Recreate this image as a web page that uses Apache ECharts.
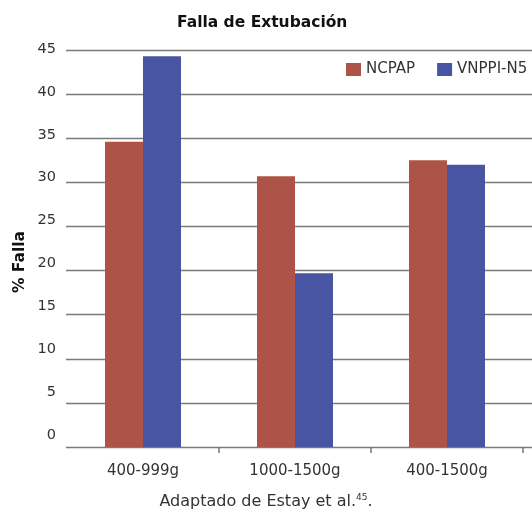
<!DOCTYPE html>
<html>
<head>
<meta charset="utf-8">
<script src="https://cdn.jsdelivr.net/npm/echarts@6/dist/echarts.min.js"></script>
<style>html,body{margin:0;padding:0;background:#fff}#c{width:532px;height:509px}</style>
</head>
<body>
<div id="c"></div>
<script>
const categories = ['400-999g', '1000-1500g', '400-1500g'];
const ncpap = [34.6, 30.7, 32.5];
const vnppi = [44.3, 19.7, 32.0];
const seriesNames = ['NCPAP', 'VNPPI-N5'];
const yMin = 0, yMax = 45, yStep = 5;

const FONT = 'DejaVu Sans';
const chart = echarts.init(document.getElementById('c'), null, {renderer: 'canvas'});
chart.setOption({
  animation: false,
  textStyle: {fontFamily: FONT},
  title: {
    text: 'Falla de Extubación', left: 172, top: 10,
    textStyle: {fontFamily: FONT, fontSize: 15.5, fontWeight: 'bold', color: '#111'}
  },
  legend: {
    data: seriesNames, left: 346, top: 62, padding: 0, itemWidth: 15, itemHeight: 13, itemGap: 22,
    icon: 'rect',
    textStyle: {fontFamily: FONT, fontSize: 15, color: '#333', lineHeight: 14}
  },
  grid: [
    {left: 67, right: 9, top: 50, bottom: 62},
    {left: 66, right: 0, top: 50, bottom: 62},
    {left: 66, right: 0, top: 49, bottom: 74}
  ],
  xAxis: [
    {type: 'category', data: categories, gridIndex: 0,
     axisLine: {show: false},
     axisTick: {show: true, length: 6, lineStyle: {color: '#777', width: 1.5},
                interval: function (i) { return i !== 0; }},
     axisLabel: {fontFamily: FONT, fontSize: 15, color: '#333', margin: 17}},
    {type: 'value', gridIndex: 1, show: false, min: 0, max: 1},
    {type: 'value', gridIndex: 2, show: false, min: 0, max: 1}
  ],
  yAxis: [
    {type: 'value', gridIndex: 0, min: yMin, max: yMax, interval: yStep,
     axisLabel: {show: false}, splitLine: {show: false}, axisLine: {show: false}, axisTick: {show: false}},
    {type: 'value', gridIndex: 1, min: yMin, max: yMax, interval: yStep,
     axisLabel: {show: false}, axisLine: {show: false}, axisTick: {show: false},
     splitLine: {show: true, lineStyle: {color: '#7a7a7a', width: 1.3}}},
    {type: 'value', gridIndex: 2, min: yMin, max: yMax, interval: yStep,
     axisLabel: {fontFamily: FONT, fontSize: 14.5, color: '#333', margin: 10},
     axisLine: {show: false}, axisTick: {show: false}, splitLine: {show: false}}
  ],
  series: [
    {name: seriesNames[0], type: 'bar', xAxisIndex: 0, yAxisIndex: 0, data: ncpap,
     barWidth: 38, barGap: '0%', itemStyle: {color: '#ad5347'}, z: 3},
    {name: seriesNames[1], type: 'bar', xAxisIndex: 0, yAxisIndex: 0, data: vnppi,
     barWidth: 38, barGap: '0%', itemStyle: {color: '#4855a3'}, z: 3}
  ],
  graphic: [
    {
      type: 'text', x: 20, y: 262, rotation: Math.PI / 2,
      style: {text: '% Falla', fontFamily: FONT, fontSize: 15.5, fontWeight: 'bold', fill: '#111',
              align: 'center', verticalAlign: 'middle'}
    },
    {
      type: 'text', left: 'center', top: 493,
      style: {
        text: 'Adaptado de Estay et al.{s|45}.',
        rich: {s: {fontSize: 9, verticalAlign: 'top', padding: [0,0,8,0], fontFamily: FONT, fill: '#333'}},
        fontFamily: FONT, fontSize: 16, fill: '#333'
      }
    }
  ]
});
</script>
</body>
</html>
